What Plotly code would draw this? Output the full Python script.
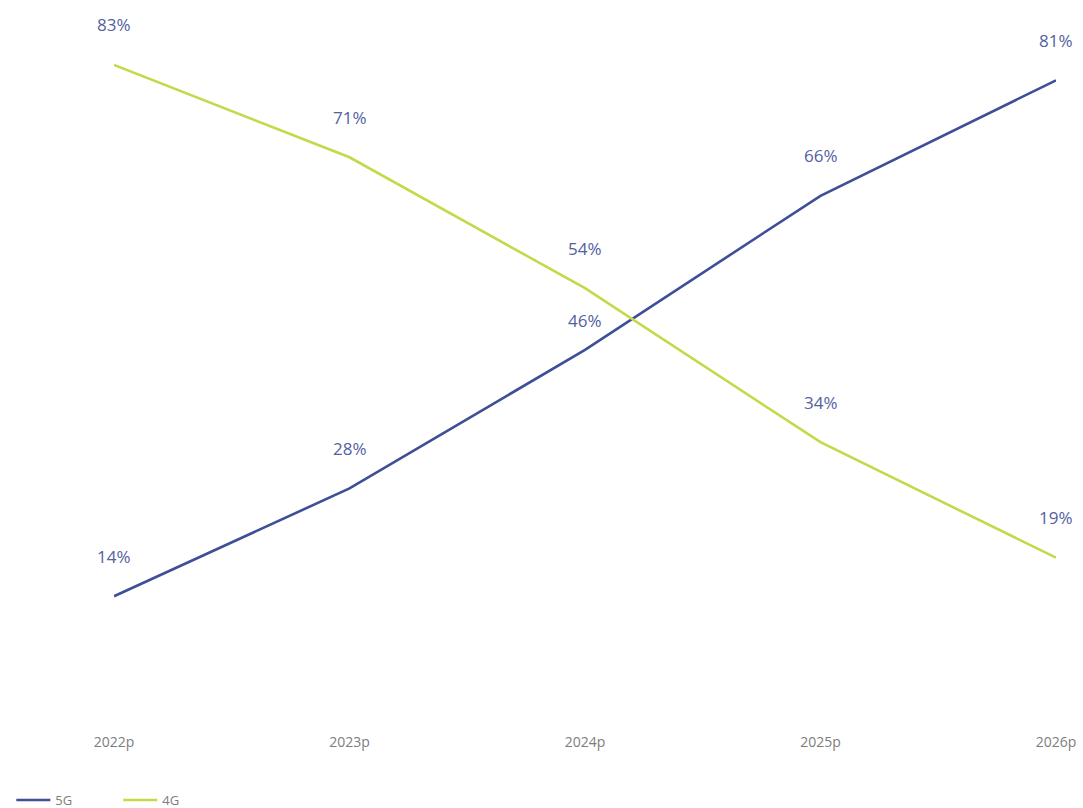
import plotly.graph_objects as go

# Network share by technology, projected years
years = ["2022p", "2023p", "2024p", "2025p", "2026p"]
share_5g = [14, 28, 46, 66, 81]
share_4g = [83, 71, 54, 34, 19]

# Vertical offset (px) of each value label above its point
label_shift_5g = [40, 40, 29, 40, 40]
label_shift_4g = [40, 40, 40, 40, 40]

BLUE = "#3d4f96"
LIME = "#c6d84a"
LABEL = "#53619e"
TICK = "#7d7d7d"
FONT = "Open Sans"

fig = go.Figure()
fig.add_trace(go.Scatter(x=years, y=share_5g, mode="lines", name="5G",
                         line=dict(color=BLUE, width=2.6)))
fig.add_trace(go.Scatter(x=years, y=share_4g, mode="lines", name="4G",
                         line=dict(color=LIME, width=2.6)))

annotations = []
for series, shifts in ((share_5g, label_shift_5g), (share_4g, label_shift_4g)):
    for yr, v, s in zip(years, series, shifts):
        annotations.append(dict(x=yr, y=v, text=f"{v}%", showarrow=False,
                                yshift=s, xanchor="center", yanchor="middle",
                                font=dict(family=FONT, size=17, color=LABEL)))

fig.update_layout(
    width=1083, height=808,
    margin=dict(l=114, r=27, t=11, b=104, autoexpand=False),
    paper_bgcolor="white", plot_bgcolor="white",
    annotations=annotations,
    showlegend=True,
    legend=dict(orientation="h", x=-0.109, xanchor="left", y=-0.1385, yanchor="middle",
                font=dict(family=FONT, size=13, color=TICK),
                itemwidth=34, entrywidth=58, entrywidthmode="pixels",
                tracegroupgap=0, bgcolor="rgba(0,0,0,0)"),
    xaxis=dict(type="category", range=[0, 4], showgrid=False, zeroline=False,
               showline=False, ticks="", ticklabelstandoff=28, automargin=False,
               tickfont=dict(family=FONT, size=14, color=TICK)),
    yaxis=dict(range=[0, 90], visible=False, showgrid=False, zeroline=False,
               automargin=False),
)

fig.write_html("out.html")
